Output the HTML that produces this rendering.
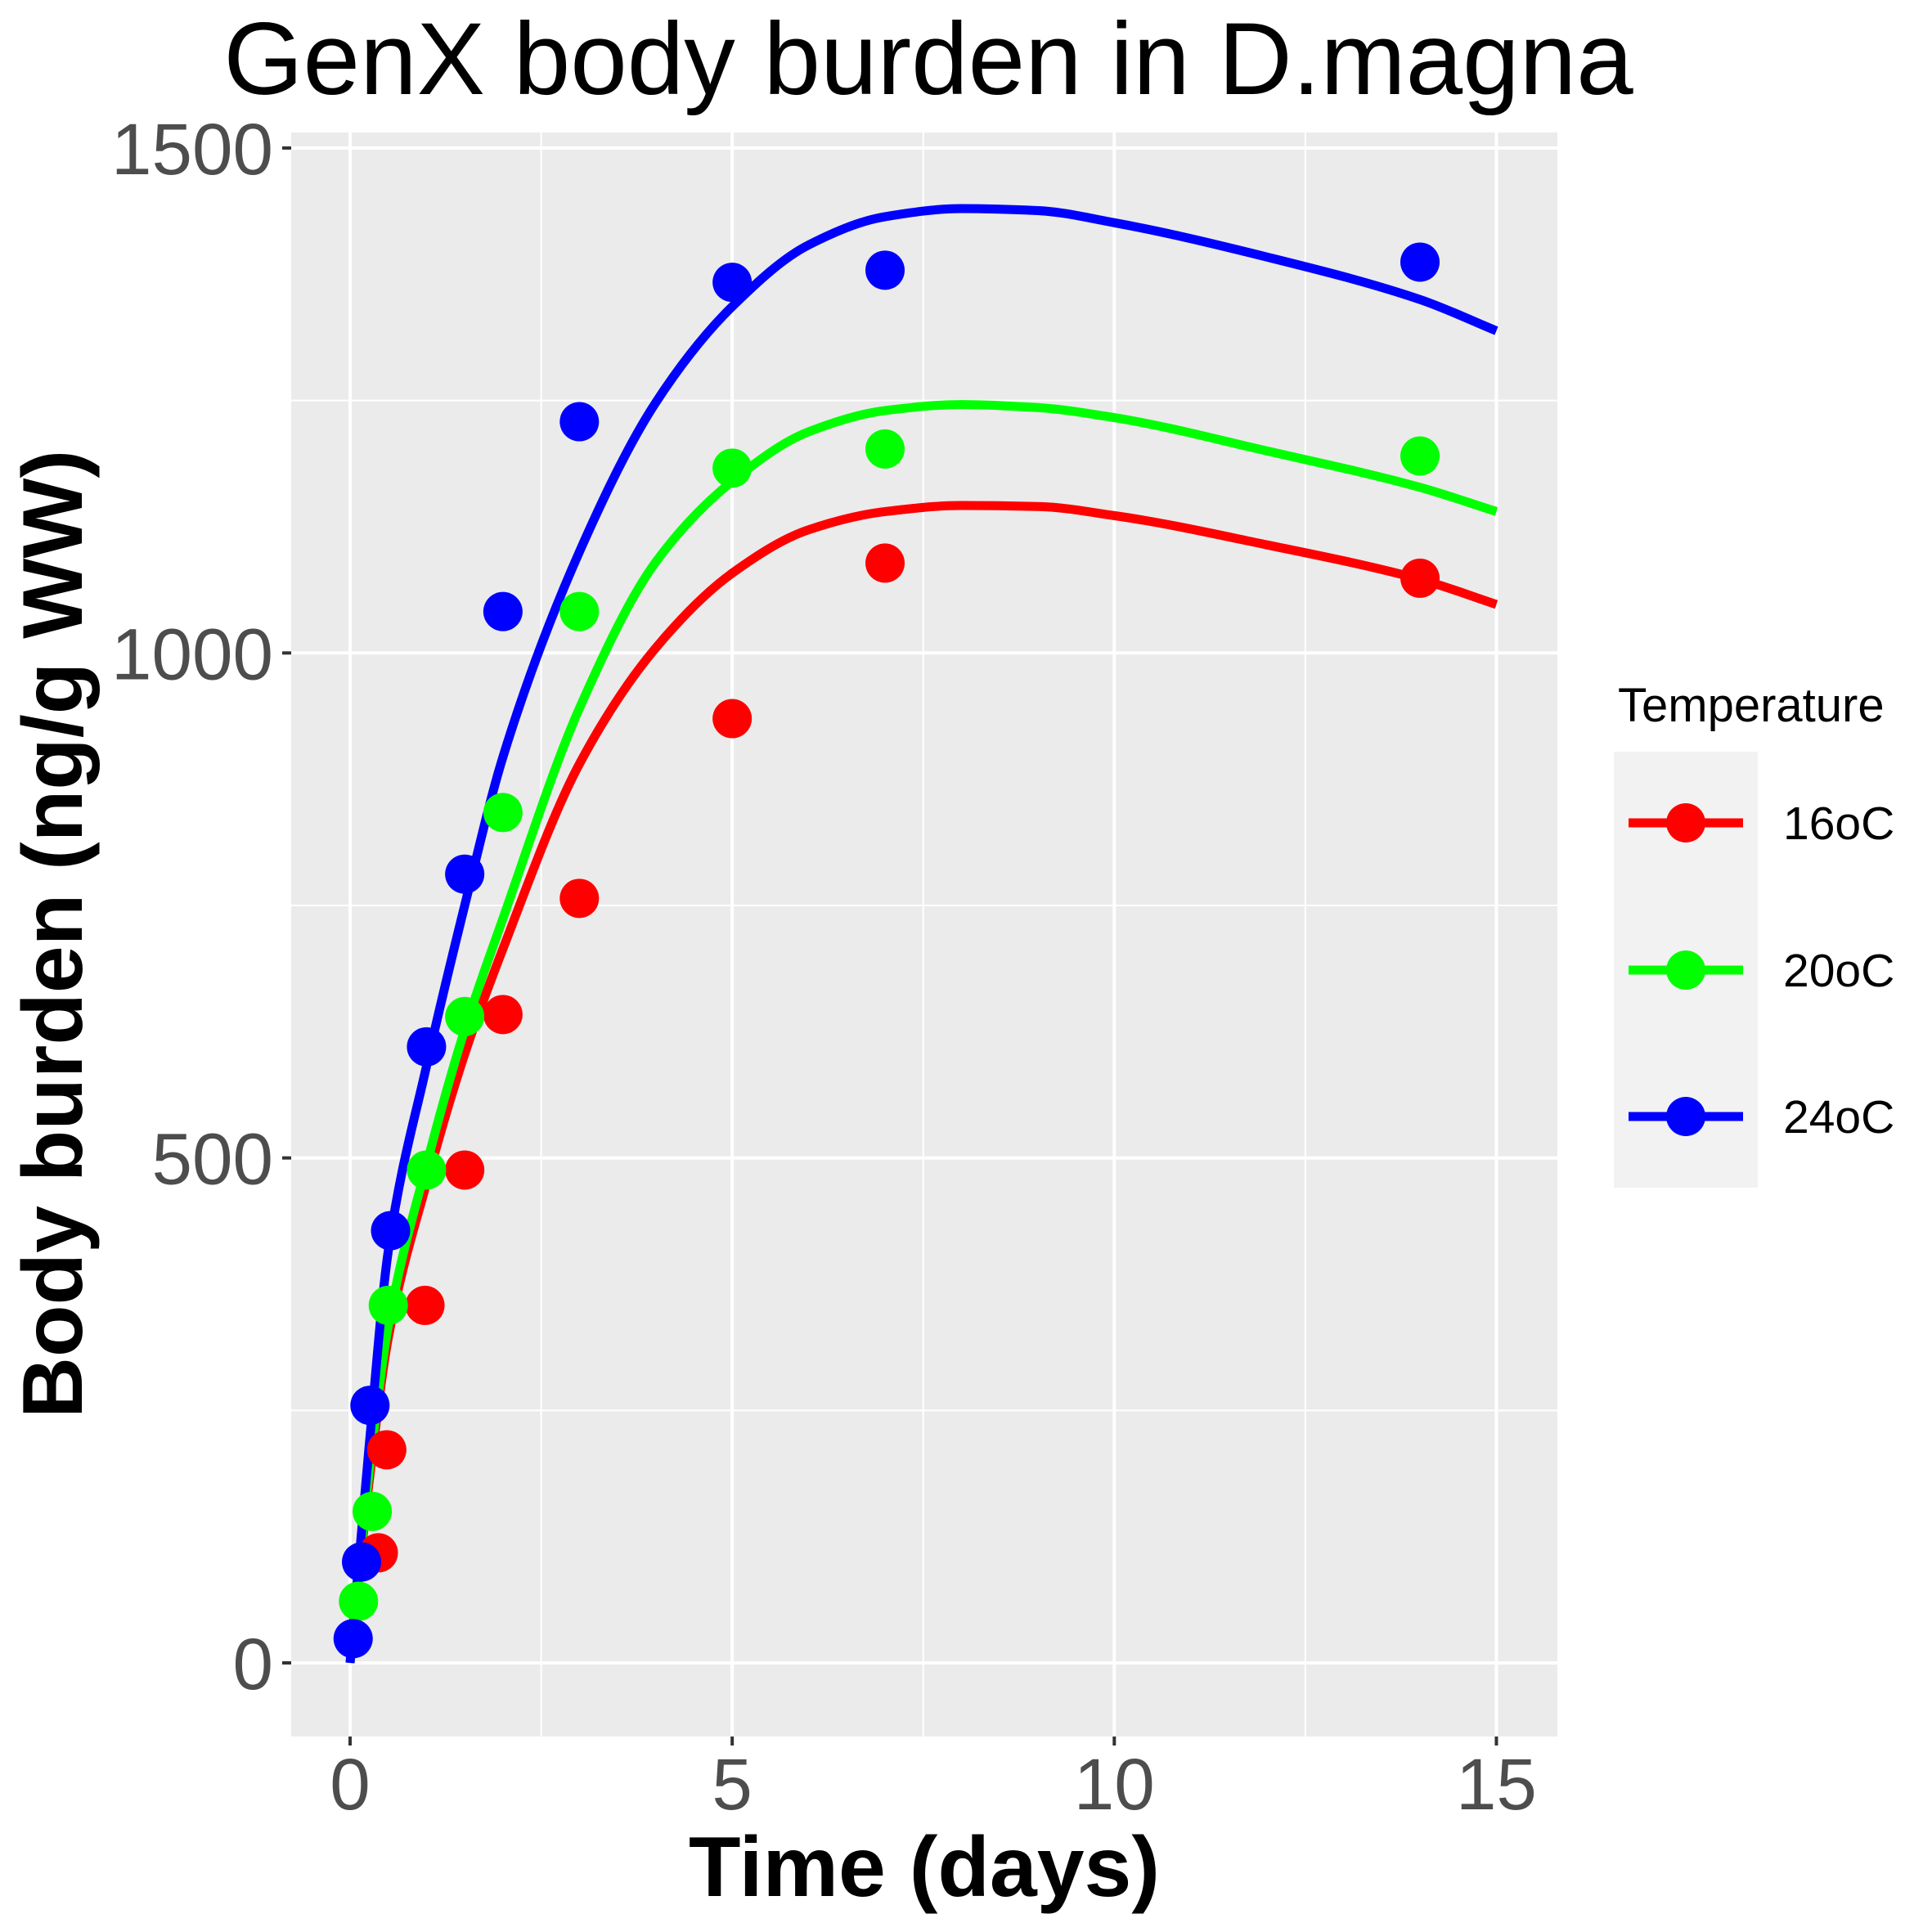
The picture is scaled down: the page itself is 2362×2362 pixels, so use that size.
<!DOCTYPE html>
<html><head><meta charset="utf-8"><style>
html,body{margin:0;padding:0;background:#fff}
svg{display:block}
text{font-family:"Liberation Sans",Arial,sans-serif}
</style></head><body>
<svg id="chart" width="2362" height="2362" viewBox="0 0 2362 2362">
<text x="1135" y="115" font-size="125" text-anchor="middle" fill="#000">GenX body burden in D.magna</text>
<rect x="356" y="162" width="1548" height="1961" fill="#EBEBEB"/>
<g id="grid"></g>
<g id="axes"></g>
<g id="series"></g>
<text x="1130" y="2318" font-size="104" font-weight="bold" text-anchor="middle" fill="#000">Time (days)</text>
<text transform="translate(100,1142) rotate(-90)" font-size="104" font-weight="bold" text-anchor="middle" fill="#000">Body burden (ng/g WW)</text>
<g>
<text x="1978" y="882" font-size="58" fill="#000">Temperature</text>
<rect x="1973" y="919" width="176" height="533" fill="#F2F2F2"/>
<g id="legend-entries"></g>
</g>
</svg>
<script>
const xTicks=[0,5,10,15];
const xMinor=[2.5,7.5,12.5];
const yTicks=[0,500,1000,1500];
const yMinor=[250,750,1250];
const seriesNames=["16oC","20oC","24oC"];
const seriesColors=["#FF0000","#00FF00","#0000FF"];
const redX=[0.37,0.48,0.98,1.5,2.0,3,5,7,14];
const redY=[109,211,354,488,642,757,935,1089,1074];
const greenX=[0.11,0.29,0.5,1,1.5,2,3,5,7,14];
const greenY=[61,150,354,488,640,842,1041,1183,1202,1195];
const blueX=[0.04,0.15,0.26,0.53,1,1.5,2,3,5,7,14];
const blueY=[24,100,255,428,610,781,1041,1229,1367,1379,1387];
const curveT=[0,0.25,0.5,1,1.5,2,3,4,5,6,7,8,9,10,12,14,15];
const redCurve=[0,180,322,475,603,707,890,1005,1079,1122,1140,1146,1145,1136,1107,1073,1048];
const greenCurve=[0,190,334,493,627,737,945,1090,1170,1219,1240,1246,1243,1233,1200,1164,1140];
const blueCurve=[0,215,408,591,750,897,1100,1248,1343,1404,1432,1440,1438,1426,1392,1350,1319];

const NS="http://www.w3.org/2000/svg";
function xs(v){return 428+v*93.43;}
function ys(v){return 2033-v*1.2347;}
function mk(tag,attrs,parent){const e=document.createElementNS(NS,tag);for(const k in attrs)e.setAttribute(k,attrs[k]);parent.appendChild(e);return e;}
const grid=document.getElementById('grid'),axes=document.getElementById('axes'),ser=document.getElementById('series');
yMinor.forEach(v=>{const l=mk('line',{x1:356,x2:1904,y1:ys(v),y2:ys(v),stroke:'#fff','stroke-width':2},grid);

});
xMinor.forEach(v=>{const l=mk('line',{x1:xs(v),x2:xs(v),y1:162,y2:2123,stroke:'#fff','stroke-width':2},grid);

});
yTicks.forEach(v=>{const l=mk('line',{x1:356,x2:1904,y1:ys(v),y2:ys(v),stroke:'#fff','stroke-width':4},grid);


const t=mk('line',{x1:345,x2:356,y1:ys(v),y2:ys(v),stroke:'#333','stroke-width':4},axes);


const tx=mk('text',{x:334,y:ys(v)+32,'font-size':89,'text-anchor':'end',fill:'#4D4D4D'},axes);tx.textContent=v;

});
xTicks.forEach(v=>{const l=mk('line',{x1:xs(v),x2:xs(v),y1:162,y2:2123,stroke:'#fff','stroke-width':4},grid);


const t=mk('line',{x1:xs(v),x2:xs(v),y1:2123,y2:2134,stroke:'#333','stroke-width':4},axes);


const tx=mk('text',{x:xs(v),y:2212,'font-size':89,'text-anchor':'middle',fill:'#4D4D4D'},axes);tx.textContent=v;

});
function monoPath(T,V){const n=T.length,d=[],m=[];
for(let i=0;i<n-1;i++)d.push((V[i+1]-V[i])/(T[i+1]-T[i]));
m[0]=d[0];m[n-1]=d[n-2];
for(let i=1;i<n-1;i++){if(d[i-1]*d[i]<=0)m[i]=0;else{const w1=2*(T[i+1]-T[i])+(T[i]-T[i-1]),w2=(T[i+1]-T[i])+2*(T[i]-T[i-1]);m[i]=(w1+w2)/(w1/d[i-1]+w2/d[i]);}}
let s='M'+xs(T[0])+','+ys(V[0]);
for(let i=0;i<n-1;i++){const h=T[i+1]-T[i];
const c1t=T[i]+h/3,c1v=V[i]+m[i]*h/3,c2t=T[i+1]-h/3,c2v=V[i+1]-m[i+1]*h/3;
s+=' C'+xs(c1t)+','+ys(c1v)+' '+xs(c2t)+','+ys(c2v)+' '+xs(T[i+1])+','+ys(V[i+1]);}
return s;}
const curves=[redCurve,greenCurve,blueCurve],ptsX=[redX,greenX,blueX],ptsY=[redY,greenY,blueY];
curves.forEach((c,k)=>{const p=mk('path',{d:monoPath(curveT,c),fill:'none',stroke:seriesColors[k],'stroke-width':11,'stroke-linejoin':'round'},ser);

});
ptsX.forEach((arr,k)=>{arr.forEach((x,i)=>{const c=mk('circle',{cx:xs(x),cy:ys(ptsY[k][i]),r:24,fill:seriesColors[k]},ser);

});});
const le=document.getElementById('legend-entries');
const keyY=[1006,1186,1365];
seriesNames.forEach((n,k)=>{const g=mk('g',{},le);


mk('line',{x1:1991,x2:2131,y1:keyY[k],y2:keyY[k],stroke:seriesColors[k],'stroke-width':11},g);
mk('circle',{cx:2061,cy:keyY[k],r:24,fill:seriesColors[k]},g);
const t=mk('text',{x:2180,y:keyY[k]+20,'font-size':57,fill:'#000'},g);t.textContent=n;});
</script>
</body></html>
